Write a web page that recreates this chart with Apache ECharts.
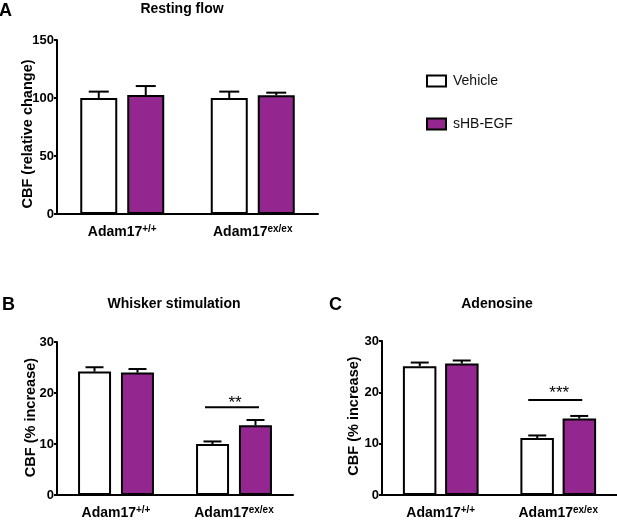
<!DOCTYPE html>
<html><head><meta charset="utf-8">
<script src="https://cdn.jsdelivr.net/npm/echarts@6/dist/echarts.min.js"></script>
<style>html,body{margin:0;padding:0;background:#fff}#c{width:617px;height:520px}</style>
</head><body><div id="c"></div>
<script>
const categories = ['Adam17{sup|+/+}', 'Adam17{sup|ex/ex}'];
const seriesNames = ['Vehicle', 'sHB-EGF'];
// Panel A: Resting flow (relative change)
const restVehicle = [100, 100];
const restVehicleSem = [5.5, 5.5];
const restHB = [102.6, 102.4];
const restHBSem = [7.7, 2.2];
const restTicks = [0, 50, 100, 150];
// Panel B: Whisker stimulation (% increase)
const whiskVehicle = [24.2, 10.0];
const whiskVehicleSem = [0.85, 0.5];
const whiskHB = [24.0, 13.7];
const whiskHBSem = [0.7, 1.0];
const whiskSig = [[1, 17.2, '**']];
// Panel C: Adenosine (% increase)
const adenoVehicle = [25.1, 11.1];
const adenoVehicleSem = [0.7, 0.5];
const adenoHB = [25.6, 14.9];
const adenoHBSem = [0.6, 0.5];
const adenoSig = [[1, 18.5, '***']];
const pctTicks = [0, 10, 20, 30];

const FONT = 'Arial, "Liberation Sans", Helvetica, sans-serif';
const PURPLE = '#93278F';

function errData(means, sems) { return means.map((m, i) => [i, m, m + sems[i]]); }

function errRender(offset, capHalf) {
  return function (params, api) {
    const x = api.value(0), v = api.value(1), e = api.value(2);
    const p0 = api.coord([x, v]), p1 = api.coord([x, e]);
    const cx = p0[0] + offset;
    return { type: 'group', children: [
      { type: 'line', shape: { x1: cx, y1: p0[1], x2: cx, y2: p1[1] }, style: { stroke: '#000', lineWidth: 2 } },
      { type: 'line', shape: { x1: cx - capHalf, y1: p1[1], x2: cx + capHalf, y2: p1[1] }, style: { stroke: '#000', lineWidth: 2 } }
    ] };
  };
}

const sigLabels = { sigB: whiskSig.map(d => d[2]), sigC: adenoSig.map(d => d[2]) };
function sigRender(left, right, textDy) {
  return function (params, api) {
    const p = api.coord([api.value(0), api.value(1)]);
    const txt = sigLabels[params.seriesName][params.dataIndex];
    return { type: 'group', children: [
      { type: 'line', shape: { x1: p[0] - left, y1: p[1], x2: p[0] + right, y2: p[1] }, style: { stroke: '#000', lineWidth: 2 } },
      { type: 'text', x: p[0] + 1, y: p[1] + textDy, style: { text: txt, fill: '#000', font: '17px ' + FONT, textAlign: 'center', textVerticalAlign: 'top' } }
    ] };
  };
}

function xAxis(gi) {
  return {
    type: 'category', gridIndex: gi, data: categories,
    axisLine: { lineStyle: { color: '#000', width: 2 } },
    axisTick: { show: false },
    axisLabel: {
      interval: 0, margin: 10, color: '#000', fontFamily: FONT, fontSize: 14, fontWeight: 'bold',
      rich: {
        sup: { fontSize: 10, fontWeight: 'bold', fontFamily: FONT, color: '#000', verticalAlign: 'bottom', padding: [0, 0, 6, 0] }
      }
    }
  };
}
function yAxis(gi, max, interval, name, gap, pad) {
  return {
    type: 'value', gridIndex: gi, min: 0, max: max, interval: interval,
    name: name, nameLocation: 'middle', nameGap: gap, nameMoveOverlap: false,
    nameTextStyle: { color: '#000', fontFamily: FONT, fontSize: 14.5, fontWeight: 'bold', padding: pad },
    axisLine: { show: true, lineStyle: { color: '#000', width: 2 } },
    axisTick: { show: true, length: 3, lineStyle: { color: '#000', width: 2 } },
    axisLabel: { margin: 3, color: '#000', fontFamily: FONT, fontSize: 13, fontWeight: 'bold' },
    splitLine: { show: false }
  };
}
function bars(name, gi, data, color, width, gap) {
  return {
    name: name, type: 'bar', xAxisIndex: gi, yAxisIndex: gi, data: data,
    barWidth: width, barGap: gap,
    itemStyle: { color: color, borderColor: '#000', borderWidth: 2 },
    emphasis: { disabled: true }, z: 2
  };
}
function errs(gi, means, sems, offset, capHalf) {
  return {
    type: 'custom', xAxisIndex: gi, yAxisIndex: gi, data: errData(means, sems),
    renderItem: errRender(offset, capHalf), encode: { x: 0, y: [1, 2] }, z: 3, silent: true
  };
}

const titleStyle = { color: '#000', fontFamily: FONT, fontSize: 14, fontWeight: 'bold' };
const letterStyle = { color: '#000', fontFamily: FONT, fontSize: 18, fontWeight: 'bold' };

const option = {
  animation: false,
  backgroundColor: '#fff',
  title: [
    { text: 'A', left: -1, top: 2, textStyle: letterStyle, padding: 0 },
    { text: 'Resting flow', left: 182, top: 2, textAlign: 'center', textStyle: titleStyle, padding: 0 },
    { text: 'B', left: 2, top: 296, textStyle: letterStyle, padding: 0 },
    { text: 'Whisker stimulation', left: 174, top: 297, textAlign: 'center', textStyle: titleStyle, padding: 0 },
    { text: 'C', left: 329, top: 296, textStyle: letterStyle, padding: 0 },
    { text: 'Adenosine', left: 497, top: 297, textAlign: 'center', textStyle: titleStyle, padding: 0 }
  ],
  legend: {
    orient: 'vertical', left: 426, top: 74, itemWidth: 19, itemHeight: 11, itemGap: 29, icon: 'rect',
    data: seriesNames, selectedMode: false, padding: 0,
    itemStyle: { borderColor: '#000', borderWidth: 2 },
    textStyle: { color: '#111', fontFamily: FONT, fontSize: 14, padding: [0, 0, 0, 2] }
  },
  grid: [
    { left: 57, top: 40, width: 261, height: 174 },
    { left: 57, top: 342, width: 236, height: 157 },
    { left: 382, top: 341, width: 235, height: 158 }
  ],
  xAxis: [xAxis(0), xAxis(1), xAxis(2)],
  yAxis: [
    yAxis(0, restTicks[restTicks.length - 1], restTicks[1] - restTicks[0], 'CBF (relative change)', 22, [0, 14, 0, 0]),
    yAxis(1, pctTicks[pctTicks.length - 1], pctTicks[1] - pctTicks[0], 'CBF (% increase)', 19, [0, 0, 0, 2]),
    yAxis(2, pctTicks[pctTicks.length - 1], pctTicks[1] - pctTicks[0], 'CBF (% increase)', 21, [0, 0, 0, 4])
  ],
  series: [
    bars('Vehicle', 0, restVehicle, '#fff', 37, '27%'),
    bars('sHB-EGF', 0, restHB, PURPLE, 37, '27%'),
    errs(0, restVehicle, restVehicleSem, -23.5, 10),
    errs(0, restHB, restHBSem, 23.5, 10),
    bars('Vehicle', 1, whiskVehicle, '#fff', 33, '30%'),
    bars('sHB-EGF', 1, whiskHB, PURPLE, 33, '30%'),
    errs(1, whiskVehicle, whiskVehicleSem, -21.5, 9),
    errs(1, whiskHB, whiskHBSem, 21.5, 9),
    { name: 'sigB', type: 'custom', xAxisIndex: 1, yAxisIndex: 1, data: whiskSig.map(d => [d[0], d[1]]),
      renderItem: sigRender(29, 25, -12), z: 3, silent: true },
    bars('Vehicle', 2, adenoVehicle, '#fff', 33.5, '26%'),
    bars('sHB-EGF', 2, adenoHB, PURPLE, 33.5, '26%'),
    errs(2, adenoVehicle, adenoVehicleSem, -21, 9),
    errs(2, adenoHB, adenoHBSem, 21, 9),
    { name: 'sigC', type: 'custom', xAxisIndex: 2, yAxisIndex: 2, data: adenoSig.map(d => [d[0], d[1]]),
      renderItem: sigRender(30, 24, -15), z: 3, silent: true }
  ]
};
const chart = echarts.init(document.getElementById('c'), null, { renderer: 'canvas' });
chart.setOption(option);
</script></body></html>
